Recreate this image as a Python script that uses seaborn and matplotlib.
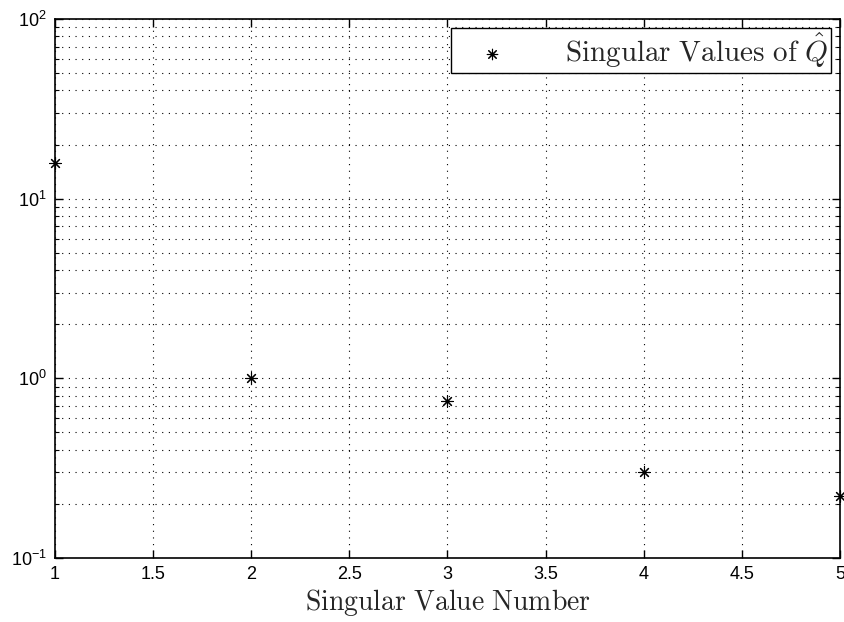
import matplotlib
matplotlib.use("Agg")
import matplotlib.pyplot as plt
import seaborn as sns
import pandas as pd
from matplotlib.ticker import LogLocator, NullFormatter

# singular values of Q-hat
index = [1, 2, 3, 4, 5]
singular_values = [15.8, 1.0, 0.75, 0.30, 0.22]
x_ticks = [1, 1.5, 2, 2.5, 3, 3.5, 4, 4.5, 5]
x_tick_labels = ["1", "1.5", "2", "2.5", "3", "3.5", "4", "4.5", "5"]

df = pd.DataFrame({"n": index, "sv": singular_values})

sns.set_theme(style="white")
plt.rcParams["font.family"] = ["Liberation Sans", "DejaVu Sans"]
plt.rcParams["mathtext.fontset"] = "cm"

fig = plt.figure(figsize=(8.45, 6.22), dpi=100)
ax = fig.add_axes([55 / 845, 64 / 622, 785 / 845, 539 / 622])

sns.scatterplot(data=df, x="n", y="sv", ax=ax, marker=(8, 2, 0), s=70,
                color="black", linewidth=0.8,
                label=r"$\mathrm{Singular\ Values\ of\ }\hat{Q}$",
                clip_on=False, zorder=5)

ax.set_yscale("log")
ax.set_xlim(1, 5)
ax.set_ylim(0.1, 100)
ax.set_xticks(x_ticks)
ax.set_xticklabels(x_tick_labels)
ax.yaxis.set_major_locator(LogLocator(base=10))
ax.yaxis.set_minor_locator(LogLocator(base=10, subs=range(2, 10)))
ax.yaxis.set_minor_formatter(NullFormatter())

ax.grid(True, which="major", axis="both", color="black", linestyle=(0, (1, 5)), linewidth=0.8)
ax.grid(True, which="minor", axis="y", color="black", linestyle=(0, (1, 5)), linewidth=0.8)

for side in ax.spines.values():
    side.set_color("black")
    side.set_linewidth(1.2)

ax.tick_params(axis="both", which="both", direction="in", top=True, right=True,
               bottom=True, left=True, colors="black", labelsize=13)
ax.tick_params(axis="both", which="major", length=6, width=1.0, pad=6)
ax.tick_params(axis="both", which="minor", length=3, width=0.8)

ax.set_xlabel(r"$\mathrm{Singular\ Value\ Number}$", fontsize=20, labelpad=3)
ax.set_ylabel("")

leg = ax.legend(loc="upper right", fontsize=21, frameon=True, fancybox=False,
                edgecolor="black", framealpha=1, borderaxespad=0.3,
                handletextpad=1.2, borderpad=0.1, handlelength=2.6,
                markerscale=0.9)
leg.get_frame().set_linewidth(1.0)

fig.savefig("out.png", dpi=100, facecolor="white")
